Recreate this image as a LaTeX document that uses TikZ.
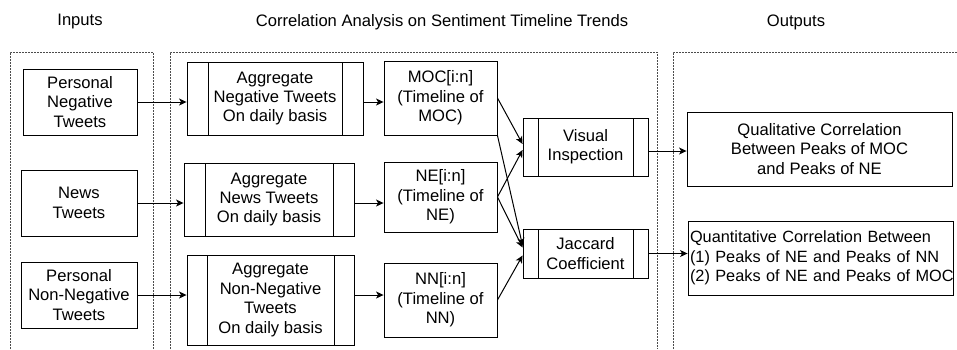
\documentclass[tikz,border=0pt]{standalone}
\usepackage{fontspec}
\setmainfont{Liberation Sans}
\usetikzlibrary{arrows.meta}

\begin{document}
\begin{tikzpicture}[
    x=1pt,y=-1pt,
    every node/.style={font=\fontsize{16.6}{19.4}\selectfont},
    box/.style={draw,line width=.9pt,align=center,inner sep=2pt},
    % Process box: two extra vertical bars inside the frame
    proc/.style={box,
        path picture={
            \draw[line width=.9pt]
                ([xshift=#1]path picture bounding box.north west) --
                ([xshift=#1]path picture bounding box.south west);
            \draw[line width=.9pt]
                ([xshift=-#1]path picture bounding box.north east) --
                ([xshift=-#1]path picture bounding box.south east);}},
    proc/.default=21pt,
    frame/.style={draw=black!70,line width=.6pt,dash pattern=on 2pt off 1pt},
    flow/.style={-{Stealth[length=7.5pt,width=7pt,inset=2pt]},line width=1pt},
    ]
    \useasboundingbox (0,0) rectangle (957,349);
    % Column titles
    \node (tin)  at (80,22)  {Inputs};
    \node (tmid) at (442,22) {Correlation Analysis on Sentiment Timeline Trends};
    \node (tout) at (796,22) {Outputs};
    % Dashed frames
    \draw[frame] (10,349) |- (153,52) -- (153,349);
    \draw[frame] (170,349) |- (657,52) -- (657,349);
    \draw[frame] (673,349) |- (957,52);
    % Inputs
    \node[box,minimum width=114pt,minimum height=66pt] (pneg) at (80,102)
        {Personal\\Negative\\Tweets};
    \node[box,minimum width=116pt,minimum height=66pt] (news) at (79,203)
        {News\\Tweets};
    \node[box,minimum width=116pt,minimum height=66pt] (pnon) at (79,295)
        {Personal\\Non-Negative\\Tweets};
    % Aggregation
    \node[proc,minimum width=176pt,minimum height=73pt] (aneg) at (275,98.5)
        {Aggregate\\Negative Tweets\\On daily basis};
    \node[proc,minimum width=170pt,minimum height=73pt] (anews) at (269,199.5)
        {Aggregate\\News Tweets\\On daily basis};
    \node[proc=20pt,minimum width=167pt,minimum height=90pt] (anon) at (270.5,300)
        {Aggregate\\Non-Negative\\Tweets\\On daily basis};
    % Timelines
    \node[box,minimum width=113pt,minimum height=74pt] (moc) at (440.5,98)
        {MOC[i:n]\\(Timeline of\\MOC)};
    \node[box,minimum width=113pt,minimum height=70pt] (ne) at (440.5,197)
        {NE[i:n]\\(Timeline of\\NE)};
    \node[box,minimum width=113pt,minimum height=74pt] (nn) at (440.5,300)
        {NN[i:n]\\(Timeline of\\NN)};
    % Analysis
    \node[proc=15pt,minimum width=125pt,minimum height=58pt] (vis) at (585.5,147)
        {Visual\\Inspection};
    \node[proc=15pt,minimum width=125pt,minimum height=49pt] (jac) at (585.5,253.5)
        {Jaccard\\Coefficient};
    % Outputs
    \node[box,minimum width=265pt,minimum height=74pt] (qual) at (819.5,149)
        {Qualitative Correlation\\Between Peaks of MOC\\and Peaks of NE};
    \node[box,align=left,text width=261pt,inner xsep=2pt,minimum height=74pt,
          font=\fontsize{16.3}{19.4}\selectfont]
        (quant) at (820.5,258)
        {\mbox{Quantitative Correlation Between}\\
         \mbox{(1) Peaks of NE and Peaks of NN}\\
         \mbox{(2) Peaks of NE and Peaks of MOC}};
    % Flows
    \draw[flow] (pneg.east) -- (pneg.east -| aneg.west);
    \draw[flow] (news.east) -- (news.east -| anews.west);
    \draw[flow] (pnon.east) -- (pnon.east -| anon.west);
    \draw[flow] (pneg.east -| aneg.east) -- (pneg.east -| moc.west);
    \draw[flow] (news.east -| anews.east) -- (news.east -| ne.west);
    \draw[flow] (pnon.east -| anon.east) -- (pnon.east -| nn.west);
    \draw[flow] (moc.east) -- ([yshift=3pt]vis.west);
    \draw[flow] (ne.east) -- ([yshift=-3pt]vis.west);
    \draw[flow] (moc.south east) -- ([yshift=8pt]jac.west);
    \draw[flow] (ne.east) -- ([yshift=6pt]jac.west);
    \draw[flow] (nn.east) -- ([yshift=-2pt]jac.west);
    \draw[flow] ([yshift=-4pt]vis.east) -- ([yshift=-4pt]vis.east -| qual.west);
    \draw[flow] (jac.east) -- (jac.east -| quant.west);
\end{tikzpicture}
\end{document}
